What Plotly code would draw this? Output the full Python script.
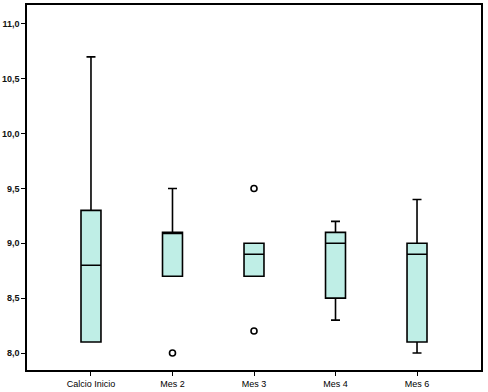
import plotly.graph_objects as go

categories = ["Calcio Inicio", "Mes 2", "Mes 3", "Mes 4", "Mes 6"]
q1 = [8.1, 8.7, 8.7, 8.5, 8.1]
median = [8.8, 9.1, 8.9, 9.0, 8.9]
q3 = [9.3, 9.1, 9.0, 9.1, 9.0]
lowerfence = [8.1, 8.7, 8.7, 8.3, 8.0]
upperfence = [10.7, 9.5, 9.0, 9.2, 9.4]
outlier_cat = ["Mes 2", "Mes 3", "Mes 3"]
outlier_val = [8.0, 9.5, 8.2]
ytick_vals = [8.0, 8.5, 9.0, 9.5, 10.0, 10.5, 11.0]
ytick_text = ["8,0", "8,5", "9,0", "9,5", "10,0", "10,5", "11,0"]

xfont = dict(family="Liberation Sans, Arial, sans-serif", size=9, color="black")
yfont = dict(family="Liberation Sans, Arial, sans-serif", size=9, color="#111111", weight="bold")

fig = go.Figure()
fig.add_trace(go.Box(
    x=categories, q1=q1, median=median, q3=q3,
    lowerfence=lowerfence, upperfence=upperfence,
    fillcolor="#bfeee6", line=dict(color="black", width=1.6),
    width=0.245, whiskerwidth=0.45, boxpoints=False, showlegend=False,
    hoverinfo="skip",
))
fig.add_trace(go.Scatter(
    x=outlier_cat, y=outlier_val, mode="markers",
    marker=dict(symbol="circle-open", size=6, color="black", line=dict(width=1.6)),
    showlegend=False, hoverinfo="skip",
))
fig.update_layout(
    width=488, height=392,
    margin=dict(l=27, r=7, t=5, b=22),
    paper_bgcolor="white", plot_bgcolor="white",
)
fig.update_xaxes(
    type="category", categoryorder="array", categoryarray=categories,
    range=[-0.785, 4.785], showline=True, linecolor="black", linewidth=1.5,
    mirror=True, ticks="outside", ticklen=4, tickcolor="black", showgrid=False,
    zeroline=False, tickfont=xfont, automargin=False,
)
fig.update_yaxes(
    range=[7.845, 11.173], tickvals=ytick_vals, ticktext=ytick_text,
    showline=True, linecolor="black", linewidth=1.5, mirror=True,
    ticks="outside", ticklen=4, tickcolor="black", showgrid=False,
    zeroline=False, tickfont=yfont, automargin=False,
)
fig.write_html("out.html", config={"displayModeBar": False},
               post_script="document.body.style.margin='0';document.body.style.overflow='hidden';")
